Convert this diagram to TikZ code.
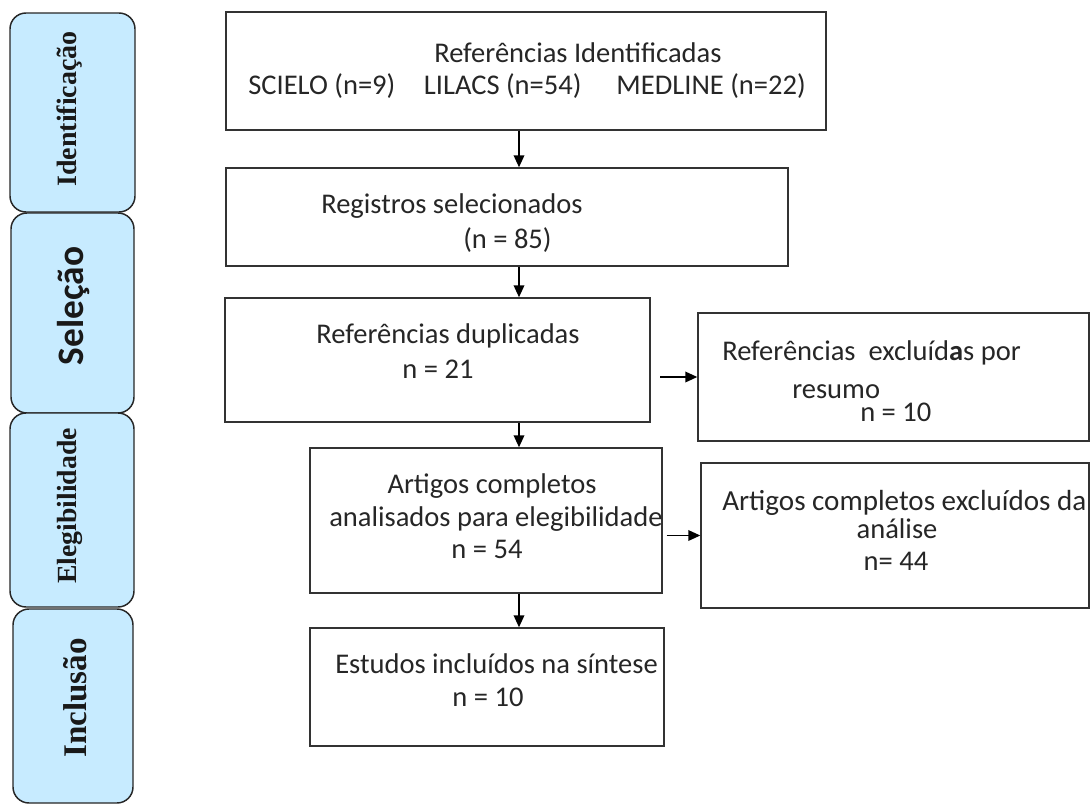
\documentclass[tikz,border=0pt]{standalone}
\usepackage{fontspec}
\setmainfont{Carlito}
\newfontfamily\sidefont{Liberation Serif}
\usepackage{xcolor}
\usetikzlibrary{arrows.meta}
\definecolor{stageblue}{RGB}{199,235,255}
\tikzset{box/.style={draw=black!80,line width=1.1pt,inner sep=0pt},
 stage/.style={draw=black!85,fill=stageblue,rounded corners=12pt,line width=1.1pt,inner sep=0pt},
 txt/.style={text=black!85,inner sep=0pt,font=\fontsize{21.4}{25}\selectfont},
 sidelbl/.style={rotate=90,inner sep=0pt,text=black!90},
 arr/.style={draw=black,line width=1.1pt,-{Triangle[length=9pt,width=8pt]}},
 }

\begin{document}
\begin{tikzpicture}[x=0.75pt,y=-0.75pt]
        \useasboundingbox (0,0) rectangle (1092,803);
        % etapas
        \node[stage,minimum width=93.75pt,minimum height=149.25pt] (ident) at (72.5,112.5) {};
        \node[stage,minimum width=92.25pt,minimum height=150pt] (selec) at (72.5,313) {};
        \node[stage,minimum width=93pt,minimum height=145.5pt] (eleg) at (72,510) {};
        \node[stage,minimum width=90pt,minimum height=145.5pt] (incl) at (73,706) {};
        \node[sidelbl,font=\sidefont\bfseries\fontsize{21}{24}\selectfont] (identlbl) at (70,109) {Identificação};
        \node[sidelbl,font=\bfseries\fontsize{28}{30}\selectfont] (seleclbl) at (74,306) {Seleção};
        \node[sidelbl,font=\sidefont\bfseries\fontsize{20.8}{24}\selectfont] (eleglbl) at (70,506) {Elegibilidade};
        \node[sidelbl,font=\sidefont\bfseries\fontsize{24.8}{28}\selectfont] (incllbl) at (75,698) {Inclusão};
        % caixas
        \node[box,minimum width=450pt,minimum height=88.5pt] (refs) at (526,71) {};
        \node[box,minimum width=421.5pt,minimum height=73.5pt] (regs) at (507,217) {};
        \node[box,minimum width=318.75pt,minimum height=93pt] (dupl) at (437.5,360) {};
        \node[box,minimum width=264pt,minimum height=108.75pt] (artg) at (486,520.5) {};
        \node[box,minimum width=265.5pt,minimum height=88.5pt] (incs) at (487,687) {};
        \node[box,minimum width=293.25pt,minimum height=96pt] (excr) at (893.5,377) {};
        \node[box,minimum width=291pt,minimum height=108.75pt] (exca) at (895,535.5) {};
        % textos
        \node[txt,anchor=base west] (t1a) at (434,62) {Referências Identificadas};
        \node[txt,anchor=base west] (t1b) at (248,94) {SCIELO (n=9)\quad LILACS (n=54)\quad\ MEDLINE (n=22)};
        \node[txt,anchor=base west] (t2a) at (321,213) {Registros selecionados};
        \node[txt,anchor=base west] (t2b) at (463,248) {(n = 85)};
        \node[txt,anchor=base] (t3a) at (448,343) {Referências duplicadas};
        \node[txt,anchor=base] (t3b) at (438,378) {n = 21};
        \node[txt,anchor=base] (t4a) at (492,493) {Artigos completos};
        \node[txt,anchor=base west] (t4b) at (329,526) {analisados para elegibilidade};
        \node[txt,anchor=base] (t4c) at (487,558) {n = 54};
        \node[txt,anchor=base west] (t5a) at (335,673) {Estudos incluídos na síntese};
        \node[txt,anchor=base] (t5b) at (488,706) {n = 10};
        \node[txt,anchor=base west] (t6a) at (722,360) {Referências\ \ excluíd\textbf{a}s por};
        \node[txt,anchor=base west] (t6b) at (792,398) {resumo};
        \node[txt,anchor=base west] (t6c) at (860,421) {n = 10};
        \node[txt,anchor=base west,font=\fontsize{21.8}{25}\selectfont] (t7a) at (722,510) {Artigos completos excluídos da};
        \node[txt,anchor=base] (t7b) at (897,538) {análise};
        \node[txt,anchor=base] (t7c) at (896,570) {n= 44};
        % setas
        \coordinate (col) at (519,0);
        \draw[arr] (refs.south -| col) -- (regs.north -| col);
        \draw[arr] (regs.south -| col) -- (dupl.north -| col);
        \draw[arr] (dupl.south -| col) -- (artg.north -| col);
        \draw[arr] (artg.south -| col) -- (incs.north -| col);
        \draw[arr,shorten <=7pt] (dupl.east |- excr.west) -- (excr.west);
        \draw[arr,shorten <=3pt] (artg.east |- exca.west) -- (exca.west);
    \end{tikzpicture}
\end{document}
